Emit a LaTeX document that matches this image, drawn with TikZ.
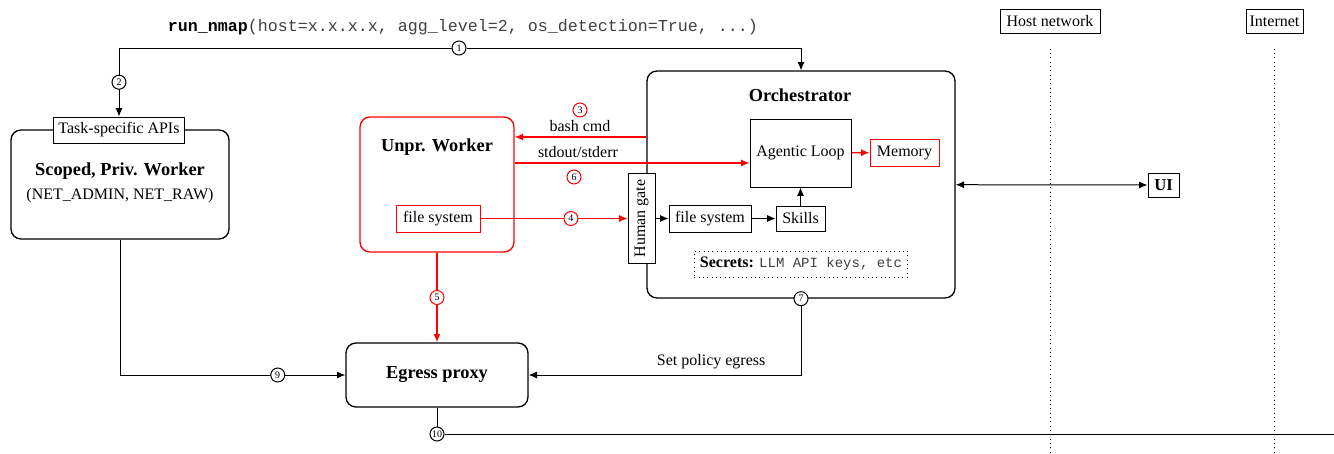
\documentclass[tikz,border=0pt]{standalone}
\usepackage{fontspec}
\setmainfont{Liberation Serif}
\setmonofont{Liberation Mono}
\usetikzlibrary{arrows.meta,positioning}

\begin{document}
\begin{tikzpicture}[x=0.6pt,y=-0.6pt,
		font=\fontsize{9.6}{11.5}\selectfont,
		>={Latex[length=5pt,width=4.2pt]},
		conn/.style={semithick,->},
		redconn/.style={line width=0.8pt,->,red},
		bigbox/.style={draw,line width=0.8pt,rounded corners=6pt},
		box/.style={draw,semithick,fill=white,inner sep=2pt},
		num/.style={draw,semithick,circle,fill=white,text=black,inner sep=0pt,minimum size=8.4pt,font=\fontsize{6}{6}\selectfont},
		title/.style={font=\fontsize{11}{13}\selectfont\bfseries}]
		
		\useasboundingbox (0,0) rectangle (1334,453);
		
		% zones
		\node[box,minimum width=60pt,minimum height=14.4pt] (host) at (1050,21) {Host network};
		\node[box,minimum width=34.2pt,minimum height=14.4pt] (inet) at (1274.5,21) {Internet};
		\coordinate (floor) at (0,453);
		\draw[dotted,semithick] ([yshift=-9pt]host.south) -- (host.south |- floor);
		\draw[dotted,semithick] ([yshift=-9pt]inet.south) -- (inet.south |- floor);
		
		% privileged worker
		\node[bigbox,minimum width=130.8pt,minimum height=65.4pt] (priv) at (120,184.5) {};
		\node[title] (privtitle) at (120,171) {Scoped, Priv. Worker};
		\node (privcaps) at (120,196) {(NET\_ADMIN, NET\_RAW)};
		\node[box,minimum width=79pt,minimum height=15.6pt] (api) at (119,130) {Task-specific APIs};
		
		% unprivileged worker
		\node[bigbox,draw=red,minimum width=92.4pt,minimum height=81pt] (unpr) at (437,184.5) {};
		\node[title] (unprtitle) at (437,147) {Unpr. Worker};
		\node[box,draw=red,minimum width=50.4pt,minimum height=16.2pt] (ufs) at (438,218.5) {file system};
		
		% orchestrator
		\node[bigbox,minimum width=184.8pt,minimum height=136.2pt] (orch) at (801,184.5) {};
		\node[title] (orchtitle) at (800,95) {Orchestrator};
		\node[box,minimum width=60.6pt,minimum height=40.8pt] (loop) at (800.5,153) {Agentic Loop};
		\node[box,draw=red,minimum width=41.4pt,minimum height=16.2pt] (mem) at (904.5,152.5) {Memory};
		\node[box,rotate=90,minimum width=54pt,minimum height=16.2pt] (gate) at (641.5,218.5) {Human gate};
		\node[box,minimum width=49.2pt,minimum height=16.2pt] (ofs) at (710,218.5) {file system};
		\node[box,minimum width=29.4pt,minimum height=15pt] (skills) at (800.5,218.5) {Skills};
		\node[draw,dotted,semithick,minimum width=126pt,minimum height=15.6pt] (secrets) at (801,264)
			{\textbf{Secrets:} {\ttfamily\fontsize{8.4}{10}\selectfont\color{black!75}LLM API keys, etc}};
		
		\node[bigbox,title,minimum width=109.2pt,minimum height=38.4pt] (egress) at (437,375) {Egress proxy};
		\node[box,font=\bfseries,minimum width=18.6pt,minimum height=14.4pt] (ui) at (1163.5,185) {UI};
		
		% tool call
		\node (call) at (463,27) {\fontsize{10}{12}\selectfont\textbf{\ttfamily run\_nmap}{\ttfamily\color{black!75}(host=x.x.x.x, agg\_level=2, os\_detection=True, ...)}};
		\node[num] (n1) at (459,48) {1};
		\draw[conn] (n1) -| node[num,pos=0.75] (n2) {2} (api);
		\draw[conn] (n1) -| (orch);
		
		% worker traffic
		\coordinate (bashy) at (580,137);
		\coordinate (outy) at (578,163);
		\draw[redconn] (orch.west |- bashy) -- (unpr.east |- bashy);
		\node (bashlbl) at (580,126) {bash cmd};
		\node[num,draw=red] (n3) at (580,110) {3};
		\draw[redconn] (unpr.east |- outy) -- (loop.west |- outy);
		\node (outlbl) at (578,152) {stdout/stderr};
		\node[num,draw=red] (n6) at (574,177) {6};
		\draw[redconn] (ufs) -- node[num,draw=red,pos=0.615] (n4) {4} (gate);
		\draw[redconn] (unpr) -- node[num,draw=red] (n5) {5} (egress);
		
		\draw[conn] (gate) -- (ofs);
		\draw[conn] (ofs) -- (skills);
		\draw[conn] (skills) -- (loop);
		\draw[redconn] (loop) -- (mem);
		\draw[semithick,<->] (orch) -- (ui);
		
		% egress
		\node[num] (n7) at (orch.south) {7};
		\draw[conn] (n7) |- node[above,pos=0.665] (policylbl) {Set policy egress} (egress);
		\draw[conn] (priv) |- node[num,pos=0.85] (n9) {9} (egress);
		\node[num] (n10) at (437,434) {10};
		\coordinate (wire) at (1334,434);
		\draw[semithick] (egress) -- (n10);
		\draw[semithick] (n10) -- (wire);
		
	\end{tikzpicture}
\end{document}
